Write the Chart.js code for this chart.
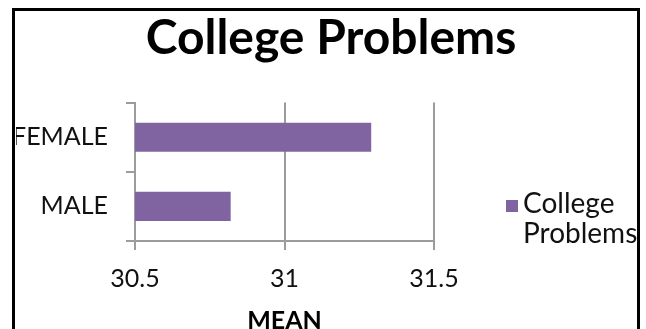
<!DOCTYPE html>
<html>
<head>
<meta charset="utf-8">
<script src="https://cdn.jsdelivr.net/npm/chart.js@4.4.1/dist/chart.umd.min.js"></script>
<style>
  html, body { margin:0; padding:0; background:#fff; }
  #wrap { position:relative; width:646px; height:329px; overflow:hidden; }
  #frame { position:absolute; left:12px; top:8px; width:622px; height:400px;
           border:3px solid #000; border-bottom:none; pointer-events:none; }
</style>
</head>
<body>
<div id="wrap">
  <canvas id="cv" width="646" height="329"></canvas>
  <div id="frame"></div>
</div>
<script>
const categories = ["FEMALE", "MALE"];
const meanValues = [31.29, 30.82];
const xTicks = [30.5, 31, 31.5];
const seriesName = "College Problems";
const axisTitle = "MEAN";

const FONT = "Lato, 'Open Sans', sans-serif";
const BAR = "#8064A2";
const GRID = "#9c9c9c";

// legend drawn at the right, text wrapped onto two lines like the original
const sideLegend = {
  id: "sideLegend",
  afterDraw(chart){
    const ctx = chart.ctx;
    const ds = chart.data.datasets[0];
    const lines = ds.label.split(" ");
    ctx.save();
    ctx.fillStyle = ds.backgroundColor;
    ctx.fillRect(506, 200, 12, 12);
    ctx.font = "28px " + FONT;
    ctx.fillStyle = "#111";
    ctx.textBaseline = "alphabetic";
    lines.forEach((t, i) => ctx.fillText(t, 523, 213 + i * 30));
    ctx.restore();
  }
};

new Chart(document.getElementById("cv"), {
  type: "bar",
  data: {
    labels: categories,
    datasets: [{ label: seriesName, data: meanValues, backgroundColor: BAR,
                 barPercentage: 0.42, categoryPercentage: 1 }]
  },
  options: {
    indexAxis: "y",
    responsive: false,
    animation: false,
    layout: { padding: { left: 16, right: 0, top: 0, bottom: 0 } },
    plugins: {
      legend: { display: false },
      tooltip: { enabled: false },
      title: { display: true, text: seriesName, color: "#000",
               font: { family: FONT, size: 48, weight: "bold", lineHeight: 1.2 },
               padding: { top: 10, bottom: 35 } }
    },
    scales: {
      x: {
        type: "linear", position: "bottom",
        min: xTicks[0], max: xTicks[xTicks.length - 1],
        afterBuildTicks: s => { s.ticks = xTicks.map(v => ({ value: v })); },
        afterFit: s => { s.height = 88; },
        ticks: { color: "#111", font: { family: FONT, size: 25 }, padding: 14,
                 callback: v => String(v) },
        grid: { color: GRID, lineWidth: 2, tickLength: 9, tickColor: GRID },
        border: { color: GRID, width: 2 },
        title: { display: true, text: axisTitle, color: "#000",
                 font: { family: FONT, size: 25, weight: "bold", lineHeight: 1 },
                 padding: { top: 0, bottom: -4 } }
      },
      y: {
        type: "category", position: "left",
        afterFit: s => { s.width = 119; },
        ticks: { color: "#111", font: { family: FONT, size: 25 }, padding: 18 },
        grid: { drawOnChartArea: false, color: GRID, lineWidth: 2, tickLength: 9, offset: true },
        border: { color: GRID, width: 2 }
      },
      legendSpace: {
        axis: "y", type: "linear", position: "right",
        afterFit: s => { s.width = 212; },
        ticks: { display: false },
        grid: { display: false },
        border: { display: false }
      }
    }
  },
  plugins: [sideLegend]
});
</script>
</body>
</html>
